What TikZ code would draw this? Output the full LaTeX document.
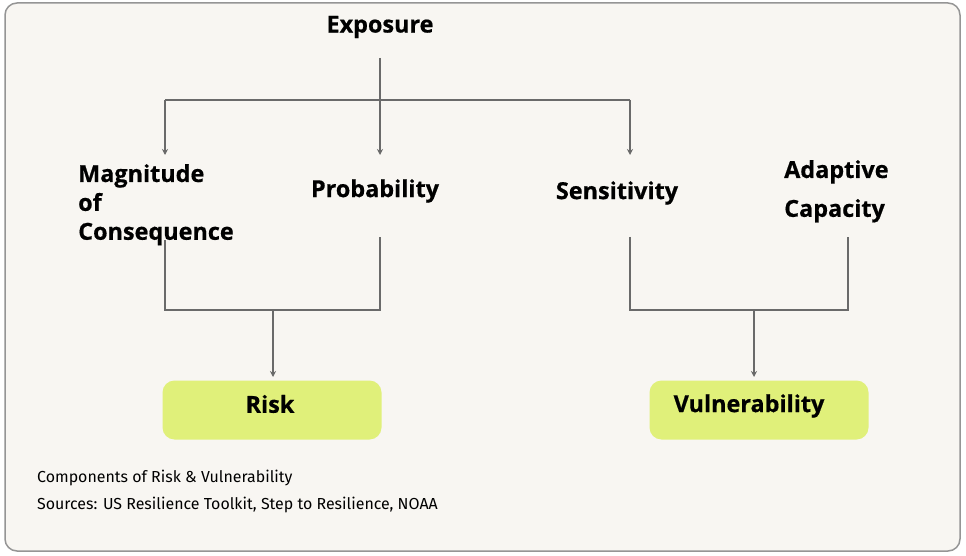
\documentclass[tikz,border=0pt]{standalone}
\usepackage{fontspec}
\setmainfont{Open Sans}[BoldFeatures={FakeBold=0.6}]
\newfontfamily\capfont{Fira Sans}
\usetikzlibrary{arrows.meta}
\definecolor{bgc}{HTML}{F8F6F2}
\definecolor{framec}{HTML}{959595}
\definecolor{linec}{HTML}{6A6A6A}
\definecolor{limec}{HTML}{E0F07A}
\tikzset{
  lbl/.style={font=\bfseries\fontsize{23.5}{29}\selectfont, text=black, inner sep=0pt},
  conn/.style={draw=linec, line width=1.3bp},
  arr/.style={conn, -{Stealth[length=6bp,width=6bp]}},
  result/.style={fill=limec, rounded corners=12bp, minimum width=219bp, minimum height=59bp, inner sep=0pt},
  capt/.style={font=\capfont\fontsize{16}{18}\selectfont, anchor=west, inner sep=0pt}
}
\begin{document}
\begin{tikzpicture}[x=1bp,y=-1bp]
\useasboundingbox (0,0) rectangle (966,556);
\fill[white] (0,0) rectangle (966,556);
\draw[framec, line width=1.5bp, fill=bgc, rounded corners=12bp] (5,3) rectangle (960,551);

\node[lbl] (exp) at (380,27) {Exposure};
\node[lbl, align=left, anchor=north west, font=\bfseries\fontsize{23.5}{29}\selectfont] (mag) at (78,164) {Magnitude\\of\\Consequence};
\node[lbl] (prob) at (375,191) {Probability};
\node[lbl] (sens) at (617,193) {Sensitivity};
\node[lbl, align=left, anchor=north west, font=\bfseries\fontsize{23.5}{39}\selectfont] (adap) at (784,160) {Adaptive\\Capacity};

\node[result] (risk) at (272,410) {};
\node[lbl] (risklbl) at (270,404) {Risk};
\node[result] (vul) at (759,410) {};
\node[lbl] (vullbl) at (749,406) {Vulnerability};

\coordinate (e0) at (380,58);
\coordinate (hl) at (165,100);
\coordinate (hr) at (630,100);
\coordinate (ml) at (165,155);
\coordinate (pt) at (380,155);
\coordinate (st) at (630,155);
\draw[conn] (hl) -- (hr);
\draw[arr] (e0) -- (pt);
\draw[arr] (hl) -- (ml);
\draw[arr] (hr) -- (st);

\coordinate (mb) at (165,240);
\coordinate (pb) at (380,237);
\coordinate (jl) at (273,310);
\draw[conn] (mb) |- (jl) -| (pb);
\draw[arr] (jl) -- (273,377);

\coordinate (sb) at (630,237);
\coordinate (ab) at (848,237);
\coordinate (jr) at (754,310);
\draw[conn] (sb) |- (jr) -| (ab);
\draw[arr] (jr) -- (754,377);

\node[capt] (c1) at (37,478) {Components of Risk \& Vulnerability};
\node[capt] (c2) at (37,505) {Sources: US Resilience Toolkit, Step to Resilience, NOAA};
\end{tikzpicture}
\end{document}
